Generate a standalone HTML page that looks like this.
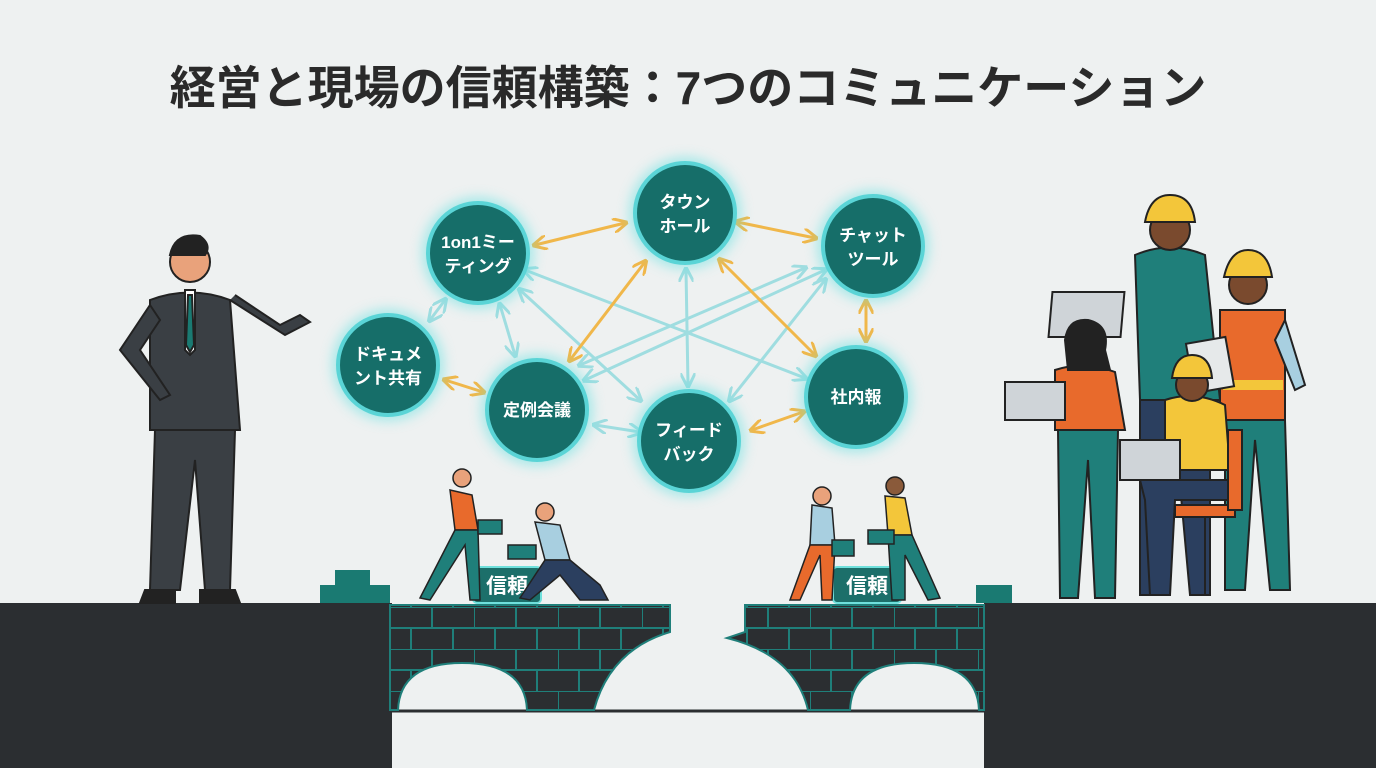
<!DOCTYPE html>
<html><head><meta charset="utf-8"><style>
html,body{margin:0;padding:0;width:1376px;height:768px;overflow:hidden;background:#eef1f1}
svg{display:block}
text{font-family:"Liberation Sans","Noto Sans CJK JP",sans-serif}
</style></head><body>
<svg width="1376" height="768" viewBox="0 0 1376 768" xmlns="http://www.w3.org/2000/svg">
<defs>
<marker id="a" viewBox="0 0 10 10" refX="8" refY="5" markerWidth="5" markerHeight="5" orient="auto-start-reverse"><path d="M0,0 L10,5 L0,10" fill="none" stroke="context-stroke" stroke-width="2"/></marker>
<filter id="g" x="-50%" y="-50%" width="200%" height="200%"><feGaussianBlur stdDeviation="6"/></filter>
<pattern id="brick" width="84" height="42" patternUnits="userSpaceOnUse" x="390" y="607">
<rect width="84" height="42" fill="#2b2e31"/>
<path d="M0,0H84M0,21H84M0,0V21M42,0V21M21,21V42M63,21V42" stroke="#1f7f7a" stroke-width="2"/>
</pattern>
</defs>
<text x="688" y="104" text-anchor="middle" font-size="46" font-weight="bold" fill="#2a2a2a">経営と現場の信頼構築：7つのコミュニケーション</text>

<!-- ground -->
<rect x="0" y="603" width="392" height="165" fill="#2b2e31"/>
<rect x="984" y="603" width="392" height="165" fill="#2b2e31"/>
<rect x="392" y="712" width="592" height="56" fill="#eef1f1"/>
<line x1="392" y1="711" x2="984" y2="711" stroke="#2b2e31" stroke-width="3"/>
<!-- bridges -->
<path d="M390,605 H670 V632 Q610,650 594,710 H527 Q525,663 462,663 Q400,663 398,710 H390Z" fill="url(#brick)" stroke="#1f7f7a" stroke-width="2"/>
<path d="M745,605 H984 V710 H979 Q977,663 914,663 Q852,663 850,710 H808 Q795,655 727,638 L745,632Z" fill="url(#brick)" stroke="#1f7f7a" stroke-width="2"/>
<rect x="320" y="585" width="70" height="18" fill="#1a7a72"/><rect x="335" y="570" width="35" height="15" fill="#1a7a72"/>
<rect x="976" y="585" width="36" height="18" fill="#1a7a72"/>
<!-- trust blocks -->
<g><rect x="473" y="567" width="68" height="36" rx="4" fill="#1c6f6a" stroke="#6fe0dc" stroke-width="2"/><text x="507" y="593" text-anchor="middle" font-size="21" font-weight="bold" fill="#fff">信頼</text></g>
<g><rect x="833" y="567" width="68" height="36" rx="4" fill="#1c6f6a" stroke="#6fe0dc" stroke-width="2"/><text x="867" y="593" text-anchor="middle" font-size="21" font-weight="bold" fill="#fff">信頼</text></g>

<!-- connectors -->
<g stroke="#9fdde0" stroke-width="3" fill="none" marker-start="url(#a)" marker-end="url(#a)">
<line x1="525" y1="270" x2="805" y2="378"/>
<line x1="520" y1="290" x2="640" y2="400"/>
<line x1="500" y1="305" x2="515" y2="355"/>
<line x1="825" y1="270" x2="585" y2="380"/>
<line x1="825" y1="280" x2="730" y2="400"/>
<line x1="686" y1="270" x2="688" y2="385"/>
<line x1="580" y1="365" x2="805" y2="268"/>
<line x1="430" y1="320" x2="445" y2="300"/>
<line x1="595" y1="425" x2="640" y2="432"/>
</g>
<g stroke="#f0b74a" stroke-width="3" fill="none" marker-start="url(#a)" marker-end="url(#a)">
<line x1="535" y1="245" x2="625" y2="223"/>
<line x1="570" y1="360" x2="645" y2="262"/>
<line x1="720" y1="260" x2="815" y2="355"/>
<line x1="737" y1="222" x2="815" y2="238"/>
<line x1="445" y1="380" x2="483" y2="392"/>
<line x1="752" y1="430" x2="803" y2="412"/>
<line x1="866" y1="302" x2="866" y2="340"/>
</g>

<!-- nodes -->
<g font-size="17" font-weight="bold" fill="#fff" text-anchor="middle">
<g><circle cx="685" cy="213" r="56" fill="#5fe0e0" opacity=".5" filter="url(#g)"/><circle cx="685" cy="213" r="50" fill="#166e69" stroke="#5ad4d6" stroke-width="4"/><text x="685" y="208">タウン</text><text x="685" y="232">ホール</text></g>
<g><circle cx="478" cy="253" r="56" fill="#5fe0e0" opacity=".5" filter="url(#g)"/><circle cx="478" cy="253" r="50" fill="#166e69" stroke="#5ad4d6" stroke-width="4"/><text x="478" y="248">1on1ミー</text><text x="478" y="272">ティング</text></g>
<g><circle cx="873" cy="246" r="56" fill="#5fe0e0" opacity=".5" filter="url(#g)"/><circle cx="873" cy="246" r="50" fill="#166e69" stroke="#5ad4d6" stroke-width="4"/><text x="873" y="241">チャット</text><text x="873" y="265">ツール</text></g>
<g><circle cx="388" cy="365" r="56" fill="#5fe0e0" opacity=".5" filter="url(#g)"/><circle cx="388" cy="365" r="50" fill="#166e69" stroke="#5ad4d6" stroke-width="4"/><text x="388" y="360">ドキュメ</text><text x="388" y="384">ント共有</text></g>
<g><circle cx="537" cy="410" r="56" fill="#5fe0e0" opacity=".5" filter="url(#g)"/><circle cx="537" cy="410" r="50" fill="#166e69" stroke="#5ad4d6" stroke-width="4"/><text x="537" y="416">定例会議</text></g>
<g><circle cx="856" cy="397" r="56" fill="#5fe0e0" opacity=".5" filter="url(#g)"/><circle cx="856" cy="397" r="50" fill="#166e69" stroke="#5ad4d6" stroke-width="4"/><text x="856" y="403">社内報</text></g>
<g><circle cx="689" cy="441" r="56" fill="#5fe0e0" opacity=".5" filter="url(#g)"/><circle cx="689" cy="441" r="50" fill="#166e69" stroke="#5ad4d6" stroke-width="4"/><text x="689" y="436">フィード</text><text x="689" y="460">バック</text></g>
</g>

<!-- businessman -->
<g stroke="#222" stroke-width="2">
<circle cx="190" cy="262" r="20" fill="#e9a27b"/>
<path d="M170,255 Q175,232 200,236 Q212,245 205,255Z" fill="#222"/>
<path d="M150,300 Q190,285 230,300 L240,430 H150Z" fill="#3a3f44"/>
<path d="M230,300 L285,335 L310,322 L300,315 L280,325 L235,295" fill="#3a3f44"/>
<path d="M150,305 L120,350 L160,400 L170,395 L140,350 L160,320Z" fill="#3a3f44"/>
<path d="M155,430 H235 L230,590 H205 L195,460 L180,590 H150Z" fill="#3a3f44"/>
<path d="M145,590 H175 V603 H140Z M200,590 H235 L240,603 H200Z" fill="#222"/>
<path d="M185,290 L195,290 L195,350 L190,355 L185,350Z" fill="#fff"/>
<path d="M188,295 L192,295 L194,345 L190,352 L186,345Z" fill="#1a7a72"/>
</g>

<!-- small workers left -->
<g stroke="#222" stroke-width="1.5">
<circle cx="462" cy="478" r="9" fill="#e9a27b"/>
<path d="M450,490 L472,495 L478,530 L455,530Z" fill="#e86a2c"/>
<path d="M455,530 L420,598 L430,600 L465,545 L470,600 L480,600 L478,530Z" fill="#1f7f7a"/>
<rect x="478" y="520" width="24" height="14" fill="#1f7f7a"/>
<circle cx="545" cy="512" r="9" fill="#e9a27b"/>
<path d="M535,522 L560,525 L570,560 L545,560Z" fill="#a8cfe0"/>
<path d="M545,560 L570,560 L600,585 L608,600 L580,600 L560,575 L530,600 L520,598Z" fill="#2b3f5f"/>
<rect x="508" y="545" width="28" height="14" fill="#1f7f7a"/>
</g>
<!-- small workers right -->
<g stroke="#222" stroke-width="1.5">
<circle cx="822" cy="496" r="9" fill="#e9a27b"/>
<path d="M812,505 L832,508 L835,545 L810,545Z" fill="#a8cfe0"/>
<path d="M810,545 L790,600 L800,600 L820,555 L822,600 L832,600 L835,545Z" fill="#e86a2c"/>
<rect x="832" y="540" width="22" height="16" fill="#1f7f7a"/>
<circle cx="895" cy="486" r="9" fill="#8a5a3a"/>
<path d="M885,496 L905,498 L912,535 L888,535Z" fill="#f3c63a"/>
<path d="M888,535 L912,535 L940,598 L928,600 L905,555 L905,600 L892,600Z" fill="#1f7f7a"/>
<rect x="868" y="530" width="26" height="14" fill="#1f7f7a"/>
</g>

<!-- right workers -->
<g stroke="#222" stroke-width="2">
<path d="M1135,255 Q1170,240 1205,255 L1220,400 H1140Z" fill="#1f7f7a"/>
<circle cx="1170" cy="230" r="20" fill="#7a4a2e"/>
<path d="M1145,222 Q1150,195 1170,195 Q1192,195 1195,222Z" fill="#f3c63a"/>
<path d="M1140,400 H1210 V595 H1190 L1175,430 L1160,595 H1140Z" fill="#2b3f5f"/>
<rect x="1078" y="292" width="72" height="45" fill="#cfd4d8" transform="skewX(-5)"/>
<rect x="1220" y="310" width="65" height="110" fill="#e86a2c"/>
<circle cx="1248" cy="285" r="19" fill="#7a4a2e"/>
<path d="M1224,277 Q1230,250 1248,250 Q1268,250 1272,277Z" fill="#f3c63a"/>
<rect x="1223" y="380" width="60" height="10" fill="#f3c63a" stroke="none"/>
<path d="M1225,420 H1285 L1290,590 H1270 L1255,440 L1245,590 H1225Z" fill="#1f7f7a"/>
<path d="M1285,320 L1305,385 L1295,390 L1275,340Z" fill="#a8cfe0"/>
<rect x="1190" y="340" width="40" height="50" fill="#e6e9ea" transform="rotate(-10 1210 365)"/>
<path d="M1055,370 Q1085,360 1115,372 L1125,430 H1055Z" fill="#e86a2c"/>
<circle cx="1085" cy="340" r="17" fill="#8a5a3a"/>
<path d="M1065,340 Q1068,318 1088,320 Q1110,325 1105,350 L1110,370 L1068,370Z" fill="#222"/>
<path d="M1058,430 H1118 L1115,598 H1095 L1088,460 L1078,598 H1060Z" fill="#1f7f7a"/>
<rect x="1005" y="382" width="60" height="38" fill="#cfd4d8"/>
<path d="M1165,400 Q1195,390 1225,405 L1230,470 H1165Z" fill="#f3c63a"/>
<circle cx="1192" cy="385" r="16" fill="#7a4a2e"/>
<path d="M1172,378 Q1175,355 1192,355 Q1210,355 1212,378Z" fill="#f3c63a"/>
<path d="M1140,480 H1230 V500 H1175 L1170,595 H1150 L1145,500Z" fill="#2b3f5f"/>
<rect x="1120" y="440" width="60" height="40" fill="#cfd4d8"/>
<rect x="1175" y="505" width="60" height="12" fill="#e86a2c"/>
<rect x="1228" y="430" width="14" height="80" fill="#e86a2c"/>
<line x1="1205" y1="517" x2="1205" y2="595"/>
</g>
</svg>
</body></html>
